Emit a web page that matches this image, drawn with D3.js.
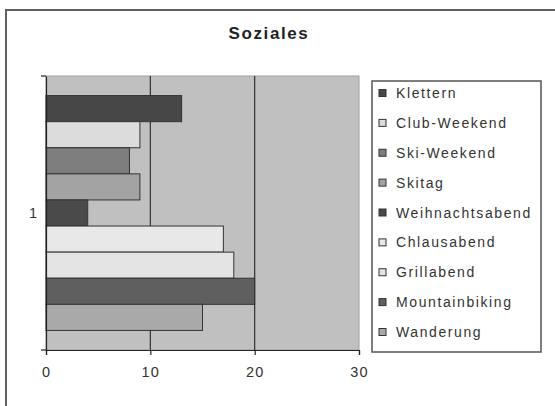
<!DOCTYPE html>
<html><head><meta charset="utf-8">
<script src="https://cdn.jsdelivr.net/npm/d3@7"></script>
<style>body{margin:0;background:#fff}text{font-family:Arial,"Liberation Sans",sans-serif}</style>
</head><body><svg id="c" width="555" height="406"></svg>
<script>
const title = "Soziales";
const categories = ["1"];
const seriesNames = ["Klettern","Club-Weekend","Ski-Weekend","Skitag","Weihnachtsabend","Chlausabend","Grillabend","Mountainbiking","Wanderung"];
const seriesValues = [13, 9, 8, 9, 4, 17, 18, 20, 15];
const seriesColors = ["#474747","#dcdcdc","#7e7e7e","#a3a3a3","#4a4a4a","#e8e8e8","#e4e4e4","#5f5f5f","#a9a9a9"];
const xTicks = [0, 10, 20, 30];

const svg = d3.select("#c");
// outer frame
svg.append("rect").attr("x",6).attr("y",10).attr("width",560).attr("height",410)
  .attr("fill","#fff").attr("stroke","#606060").attr("stroke-width",2);

const L = 46, R = 359, T = 76, B = 350;
const x = d3.scaleLinear().domain([0, 30]).range([L, R]);
const y0 = d3.scaleBand().domain(categories).range([T, B]).paddingInner(0).paddingOuter(0);
// Excel gap width 150%
const band = y0.bandwidth();
const barH = band / (seriesNames.length + 1.5);
const y1 = d3.scaleBand().domain(seriesNames)
  .range([T + barH*0.75, B - barH*0.75]).padding(0);

// plot background
svg.append("rect").attr("x",L).attr("y",T).attr("width",R-L).attr("height",B-T)
  .attr("fill","#c0c0c0").attr("stroke","#a0a0a0").attr("stroke-width",1);

// gridlines
svg.append("g").selectAll("line").data(xTicks.filter(d=>d>0 && d<30)).join("line")
  .attr("x1",d=>x(d)).attr("x2",d=>x(d)).attr("y1",T).attr("y2",B)
  .attr("stroke","#303030").attr("stroke-width",1.2);

// bars
svg.append("g").selectAll("rect").data(seriesNames).join("rect")
  .attr("x", x(0))
  .attr("y", d=>y1(d))
  .attr("width", (d,i)=>x(seriesValues[i]) - x(0))
  .attr("height", y1.bandwidth())
  .attr("fill", (d,i)=>seriesColors[i])
  .attr("stroke","#333").attr("stroke-width",1);

// x axis
const xAxis = d3.axisBottom(x).tickValues(xTicks).tickSize(5).tickPadding(12);
const gx = svg.append("g").attr("transform",`translate(0,${B})`).call(xAxis);
gx.select(".domain").attr("stroke","#222").attr("stroke-width",1.2);
gx.selectAll(".tick line").attr("stroke","#222").attr("stroke-width",1.2).attr("y1",0);
gx.selectAll(".tick text").attr("font-size","14.5px").attr("fill","#333")
  .style("letter-spacing","1.2px");

// y axis
const yAxis = d3.axisLeft(y0).tickSize(0).tickPadding(9);
const gy = svg.append("g").attr("transform",`translate(${L},0)`).call(yAxis);
gy.select(".domain").attr("stroke","#222").attr("stroke-width",1.2);
gy.selectAll(".tick text").attr("font-size","14.5px").attr("fill","#333");
svg.append("g").selectAll("line").data([T,B]).join("line")
  .attr("x1",L-5).attr("x2",L).attr("y1",d=>d).attr("y2",d=>d)
  .attr("stroke","#222").attr("stroke-width",1.2);

// title
svg.append("text").attr("x",269).attr("y",39).attr("text-anchor","middle")
  .attr("font-size","17px").attr("font-weight","bold").attr("fill","#222")
  .style("letter-spacing","1.6px").text(title);

// legend
const lg = svg.append("g");
lg.append("rect").attr("x",372).attr("y",81).attr("width",169).attr("height",271)
  .attr("fill","#fff").attr("stroke","#555").attr("stroke-width",1.5);
const ly = d3.scalePoint().domain(seriesNames).range([93, 332]);
const items = lg.selectAll("g.item").data(seriesNames).join("g").attr("class","item")
  .attr("transform", d=>`translate(0,${ly(d)})`);
items.append("rect").attr("x",379).attr("y",-3.5).attr("width",7).attr("height",7)
  .attr("fill",(d,i)=>seriesColors[i]).attr("stroke","#333").attr("stroke-width",1);
items.append("text").attr("x",396).attr("y",5).attr("font-size","14px").attr("fill","#333")
  .style("letter-spacing","1.6px").text(d=>d);
</script></body></html>
